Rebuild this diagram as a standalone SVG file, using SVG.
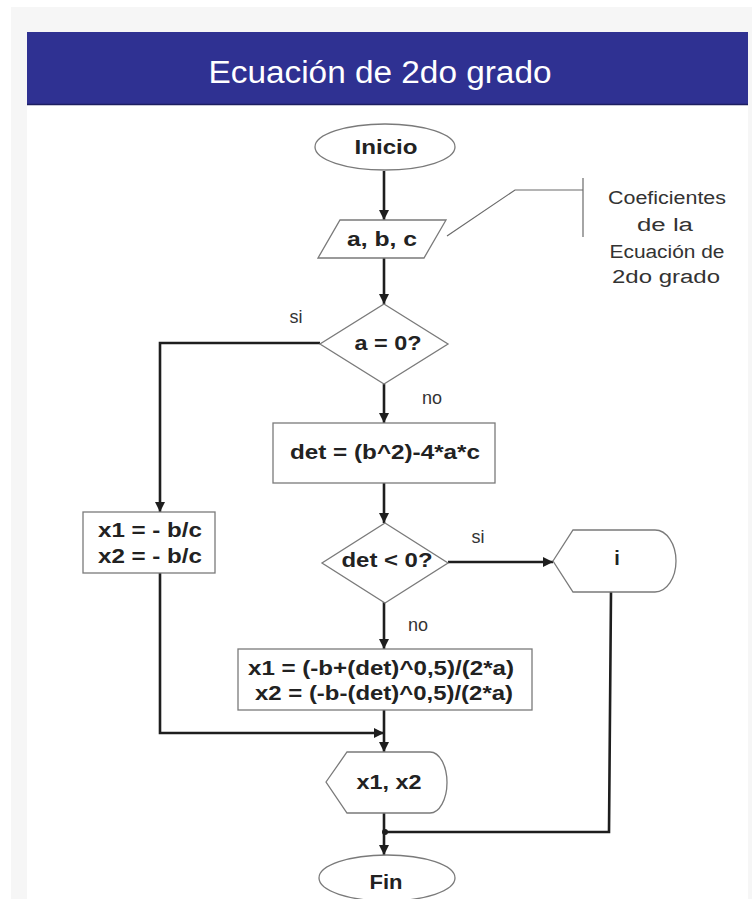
<svg xmlns="http://www.w3.org/2000/svg" width="752" height="899" viewBox="0 0 752 899">
<defs>
<style>
.shape{fill:#ffffff;stroke:#7a7a7a;stroke-width:1.3}
.conn{fill:none;stroke:#1e1e1e;stroke-width:2.6}
.ann{fill:none;stroke:#6a6a6a;stroke-width:1.2}
.t{font-family:"Liberation Sans",Arial,sans-serif;font-weight:bold;font-size:20px;fill:#222;text-anchor:middle}
.n{font-family:"Liberation Sans",Arial,sans-serif;font-size:18px;fill:#333;text-anchor:middle}
</style>
<marker id="arr" viewBox="0 0 10 10" refX="10" refY="5" markerWidth="4" markerHeight="4" orient="auto" markerUnits="strokeWidth">
<path d="M0,0 L10,5 L0,10 Z" fill="#1e1e1e"/>
</marker>
</defs>
<rect x="0" y="0" width="752" height="899" fill="#ffffff"/>
<rect x="11" y="7" width="741" height="892" fill="#f6f6f6"/>
<rect x="27" y="105" width="721" height="794" fill="#ffffff"/>
<g id="banner">
<rect x="27" y="32" width="721" height="73" fill="#2f3192"/>
<line x1="27" y1="104.5" x2="748" y2="104.5" stroke="#1c1e60" stroke-width="1.5"/>
<text x="380" y="83" font-family="'Liberation Sans',Arial,sans-serif" font-size="31" fill="#ffffff" text-anchor="middle" textLength="343" lengthAdjust="spacingAndGlyphs">Ecuación de 2do grado</text>
</g>
<g id="connectors">
<line class="conn" x1="384" y1="171" x2="384" y2="220" marker-end="url(#arr)"/>
<line class="conn" x1="384" y1="258" x2="384" y2="304" marker-end="url(#arr)"/>
<polyline class="conn" points="320,343 160,343 160,512" marker-end="url(#arr)"/>
<line class="conn" x1="384" y1="384" x2="384" y2="423" marker-end="url(#arr)"/>
<line class="conn" x1="384" y1="483" x2="384" y2="523" marker-end="url(#arr)"/>
<line class="conn" x1="448" y1="562" x2="553" y2="562" marker-end="url(#arr)"/>
<line class="conn" x1="384" y1="602" x2="384" y2="649" marker-end="url(#arr)"/>
<line class="conn" x1="384" y1="710" x2="384" y2="752" marker-end="url(#arr)"/>
<polyline class="conn" points="160,573 160,733 384,733" marker-end="url(#arr)"/>
<line class="conn" x1="384" y1="813" x2="384" y2="855" marker-end="url(#arr)"/>
<polyline class="conn" points="611,592 609,832 384,832"/>
<circle cx="385" cy="832" r="3" fill="#1e1e1e"/>
<polyline class="ann" points="447,236 515,190 583,190"/>
<line class="ann" x1="583" y1="178" x2="583" y2="237"/>
</g>
<g id="inicio">
<ellipse class="shape" cx="385" cy="147" rx="70" ry="23"/>
<text class="t" x="386" y="154" textLength="63" lengthAdjust="spacingAndGlyphs">Inicio</text>
</g>
<g id="input">
<polygon class="shape" points="340,220 446,220 424,258 318,258"/>
<text class="t" x="382" y="246" textLength="70" lengthAdjust="spacingAndGlyphs">a, b, c</text>
</g>
<g id="note">
<text class="n" x="667" y="204" textLength="118" lengthAdjust="spacingAndGlyphs">Coeficientes</text>
<text class="n" x="665" y="231" textLength="56" lengthAdjust="spacingAndGlyphs">de la</text>
<text class="n" x="667" y="258" textLength="115" lengthAdjust="spacingAndGlyphs">Ecuación de</text>
<text class="n" x="666" y="283" textLength="108" lengthAdjust="spacingAndGlyphs">2do grado</text>
</g>
<g id="dec1">
<polygon class="shape" points="384,304 448,344 384,384 320,344"/>
<text class="t" x="388" y="350" textLength="67" lengthAdjust="spacingAndGlyphs">a = 0?</text>
<text class="n" x="296" y="323">si</text>
<text class="n" x="432" y="404">no</text>
</g>
<g id="det">
<rect class="shape" x="273" y="423" width="222" height="60"/>
<text class="t" x="385" y="459" textLength="190" lengthAdjust="spacingAndGlyphs">det = (b^2)-4*a*c</text>
</g>
<g id="dec2">
<polygon class="shape" points="385,523 448,563 385,603 322,563"/>
<text class="t" x="387" y="567" textLength="91" lengthAdjust="spacingAndGlyphs">det &lt; 0?</text>
<text class="n" x="478" y="543">si</text>
<text class="n" x="418" y="631">no</text>
</g>
<g id="imag">
<path class="shape" d="M553,561 L573,530 L655,530 A21,31 0 0 1 655,592 L573,592 Z"/>
<text class="t" x="617" y="565">i</text>
</g>
<g id="simple">
<rect class="shape" x="83" y="512" width="132" height="61"/>
<text class="t" x="150" y="537" textLength="104" lengthAdjust="spacingAndGlyphs">x1 = - b/c</text>
<text class="t" x="150" y="563" textLength="104" lengthAdjust="spacingAndGlyphs">x2 = - b/c</text>
</g>
<g id="formula">
<rect class="shape" x="238" y="649" width="294" height="61"/>
<text class="t" x="381" y="675" textLength="266" lengthAdjust="spacingAndGlyphs">x1 = (-b+(det)^0,5)/(2*a)</text>
<text class="t" x="384" y="700" textLength="258" lengthAdjust="spacingAndGlyphs">x2 = (-b-(det)^0,5)/(2*a)</text>
</g>
<g id="output">
<path class="shape" d="M326,782 L347,752 L430,752 A17,30.5 0 0 1 430,813 L347,813 Z"/>
<text class="t" x="389" y="789" textLength="65" lengthAdjust="spacingAndGlyphs">x1, x2</text>
</g>
<g id="fin">
<ellipse class="shape" cx="387" cy="878" rx="68" ry="23"/>
<text class="t" x="386" y="889" textLength="33" lengthAdjust="spacingAndGlyphs">Fin</text>
</g>
</svg>
